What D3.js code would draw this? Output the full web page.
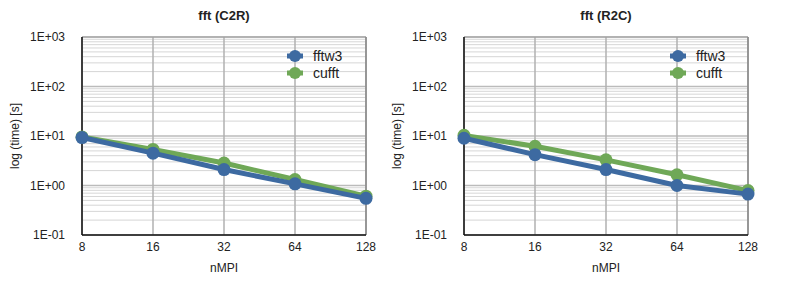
<!DOCTYPE html>
<html>
<head>
<meta charset="utf-8">
<script src="https://cdn.jsdelivr.net/npm/d3@7"></script>
<style>
  body { margin: 0; background: #fff; }
  text { font-family: "Liberation Sans", Arial, Helvetica, sans-serif; fill: #222; }
  .title { font-weight: bold; font-size: 13px; }
  .tick-label { font-size: 12px; }
  .axis-title { font-size: 12px; }
  .legend-label { font-size: 14px; }
</style>
</head>
<body>
<div class="app"></div>
<script>
'use strict'

// данные
var nMPI = [8, 16, 32, 64, 128];
var yTicks = [1e-1, 1e0, 1e1, 1e2, 1e3];
var yTickLabels = ["1E-01", "1E+00", "1E+01", "1E+02", "1E+03"];
var seriesNames = ["fftw3", "cufft"];
var seriesColors = ["#3d6aa1", "#6fa857"];

var c2rFftw3 = [9.3, 4.5, 2.1, 1.08, 0.55];
var c2rCufft = [9.6, 5.35, 2.85, 1.32, 0.61];
var r2cFftw3 = [9.0, 4.2, 2.1, 1.0, 0.67];
var r2cCufft = [10.3, 6.2, 3.3, 1.65, 0.79];

var panels = [
  {title: "fft (C2R)", left: 82, series: [c2rFftw3, c2rCufft], legendX: 295},
  {title: "fft (R2C)", left: 464, series: [r2cFftw3, r2cCufft], legendX: 678}
];

var plotWidth = 284;
var plotTop = 37;
var plotHeight = 198;

var svg = d3.select(".app")
            .append("svg")
            .attr("width", 789)
            .attr("height", 283);

var xScale = d3.scaleLog().base(2).domain([8, 128]).range([0, plotWidth]);
var yScale = d3.scaleLog().domain([1e-1, 1e3]).range([plotHeight, 0]);

// минорные деления для сетки
var minorTicks = [];
yTicks.slice(0, -1).forEach(function(d) {
  for (var k = 2; k <= 9; k++) minorTicks.push(d * k);
});

panels.forEach(function(p) {
  var g = svg.append("g")
             .attr("transform", "translate(" + p.left + "," + plotTop + ")");

  // сетка
  g.selectAll(".minor")
   .data(minorTicks)
   .enter().append("line")
   .attr("x1", 0).attr("x2", plotWidth)
   .attr("y1", function(d) { return yScale(d); })
   .attr("y2", function(d) { return yScale(d); })
   .attr("stroke", "#d6d6d6")
   .attr("stroke-width", 1);

  g.selectAll(".major")
   .data(yTicks)
   .enter().append("line")
   .attr("x1", 0).attr("x2", plotWidth)
   .attr("y1", function(d) { return yScale(d); })
   .attr("y2", function(d) { return yScale(d); })
   .attr("stroke", "#bbbbbb")
   .attr("stroke-width", 1.5);

  g.selectAll(".vgrid")
   .data(nMPI)
   .enter().append("line")
   .attr("x1", function(d) { return xScale(d); })
   .attr("x2", function(d) { return xScale(d); })
   .attr("y1", 0).attr("y2", plotHeight)
   .attr("stroke", "#b0b0b0")
   .attr("stroke-width", 1.5);

  // рамка
  g.append("line").attr("x1", 0).attr("x2", plotWidth).attr("y1", 0).attr("y2", 0)
   .attr("stroke", "#999").attr("stroke-width", 1);
  g.append("line").attr("x1", plotWidth).attr("x2", plotWidth).attr("y1", 0).attr("y2", plotHeight)
   .attr("stroke", "#888").attr("stroke-width", 1.5);
  g.append("line").attr("x1", 0).attr("x2", 0).attr("y1", 0).attr("y2", plotHeight)
   .attr("stroke", "#111").attr("stroke-width", 1.5);
  g.append("line").attr("x1", 0).attr("x2", plotWidth).attr("y1", plotHeight).attr("y2", plotHeight)
   .attr("stroke", "#111").attr("stroke-width", 1.5);

  // подписи осей
  g.selectAll(".ylab")
   .data(yTicks)
   .enter().append("text")
   .attr("class", "tick-label")
   .attr("x", -17)
   .attr("y", function(d) { return yScale(d); })
   .attr("dy", "0.35em")
   .attr("text-anchor", "end")
   .text(function(d, i) { return yTickLabels[i]; });

  g.selectAll(".xlab")
   .data(nMPI)
   .enter().append("text")
   .attr("class", "tick-label")
   .attr("x", function(d) { return xScale(d); })
   .attr("y", plotHeight + 16)
   .attr("text-anchor", "middle")
   .text(function(d) { return d; });

  g.append("text")
   .attr("class", "axis-title")
   .attr("x", plotWidth / 2)
   .attr("y", plotHeight + 37)
   .attr("text-anchor", "middle")
   .text("nMPI");

  g.append("text")
   .attr("class", "axis-title")
   .attr("transform", "translate(-63," + (plotHeight / 2) + ") rotate(-90)")
   .attr("text-anchor", "middle")
   .text("log (time) [s]");

  g.append("text")
   .attr("class", "title")
   .attr("x", plotWidth / 2)
   .attr("y", -17)
   .attr("text-anchor", "middle")
   .text(p.title);

  // линии
  var line = d3.line()
    .x(function(d, i) { return xScale(nMPI[i]); })
    .y(function(d) { return yScale(d); });

  for (var s = p.series.length - 1; s >= 0; s--) {
    g.append("path")
     .attr("d", line(p.series[s]))
     .attr("fill", "none")
     .attr("stroke", seriesColors[s])
     .attr("stroke-width", 5)
     .attr("stroke-linejoin", "round");

    g.selectAll(".dot" + s)
     .data(p.series[s])
     .enter().append("circle")
     .attr("cx", function(d, i) { return xScale(nMPI[i]); })
     .attr("cy", function(d) { return yScale(d); })
     .attr("r", 6.5)
     .attr("fill", seriesColors[s]);
  }

  // легенда
  seriesNames.forEach(function(name, i) {
    var ly = 56 + i * 17;
    svg.append("line")
       .attr("x1", p.legendX - 8).attr("x2", p.legendX + 8)
       .attr("y1", ly).attr("y2", ly)
       .attr("stroke", seriesColors[i]).attr("stroke-width", 5);
    svg.append("circle")
       .attr("cx", p.legendX).attr("cy", ly).attr("r", 6)
       .attr("fill", seriesColors[i]);
    svg.append("text")
       .attr("class", "legend-label")
       .attr("x", p.legendX + 18)
       .attr("y", ly)
       .attr("dy", "0.35em")
       .text(name);
  });
});
</script>
</body>
</html>
